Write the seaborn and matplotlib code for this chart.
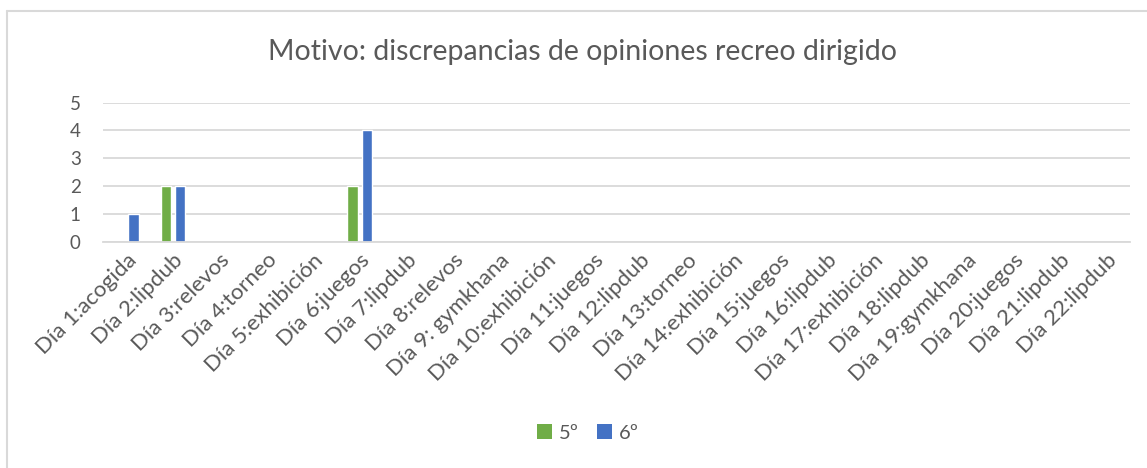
import matplotlib
matplotlib.use("Agg")
import matplotlib.pyplot as plt
import seaborn as sns
import pandas as pd
from matplotlib.lines import Line2D
from matplotlib.patches import Patch

categories = ["Día 1:acogida", "Día 2:lipdub", "Día 3:relevos", "Día 4:torneo",
              "Día 5:exhibición", "Día 6:juegos", "Día 7:lipdub", "Día 8:relevos",
              "Día 9: gymkhana", "Día 10:exhibición", "Día 11:juegos", "Día 12:lipdub",
              "Día 13:torneo", "Día 14:exhibición", "Día 15:juegos", "Día 16:lipdub",
              "Día 17:exhibición", "Día 18:lipdub", "Día 19:gymkhana", "Día 20:juegos",
              "Día 21:lipdub", "Día 22:lipdub"]
series_names = ["5º", "6º"]
values_5 = [0, 2, 0, 0, 0, 2, 0, 0, 0, 0, 0, 0, 0, 0, 0, 0, 0, 0, 0, 0, 0, 0]
values_6 = [1, 2, 0, 0, 0, 4, 0, 0, 0, 0, 0, 0, 0, 0, 0, 0, 0, 0, 0, 0, 0, 0]
yticks = [0, 1, 2, 3, 4, 5]
title = "Motivo: discrepancias de opiniones recreo dirigido"

colors = {"5º": "#70AD47", "6º": "#4472C4"}
text_color = "#595959"
grid_color = "#D9D9D9"

df = pd.DataFrame({
    "cat": categories * 2,
    "serie": [series_names[0]] * len(categories) + [series_names[1]] * len(categories),
    "val": values_5 + values_6,
})

sns.set_theme(style="white")
plt.rcParams["font.family"] = ["Lato", "DejaVu Sans"]

W, H = 1147, 468
fig = plt.figure(figsize=(W / 100, H / 100), dpi=100)
ax = fig.add_axes([103 / W, 1 - 241.7 / H, (1130 - 103) / W, (241.7 - 102.7) / H])

sns.barplot(data=df, x="cat", y="val", hue="serie", palette=colors, ax=ax,
            width=0.6, gap=0.25, legend=False, saturation=1)

ax.set_ylim(0, 5)
ax.set_xlim(-0.5, len(categories) - 0.5)
ax.set_yticks(yticks)
ax.set_yticklabels([str(v) for v in yticks], fontsize=13.5, color=text_color)
ax.yaxis.grid(True, color=grid_color, linewidth=1.3)
ax.set_axisbelow(True)
for s in ["top", "right", "left"]:
    ax.spines[s].set_visible(False)
ax.spines["bottom"].set_color(grid_color)
ax.spines["bottom"].set_linewidth(1.3)
ax.tick_params(axis="y", length=0, pad=16)
ax.tick_params(axis="x", length=0, pad=6)
ax.set_xlabel("")
ax.set_ylabel("")
ax.set_xticks(range(len(categories)))
ax.set_xticklabels(categories, rotation=45, ha="right", rotation_mode="anchor",
                   fontsize=16, color=text_color)

fig.text(582 / W, 1 - 52 / H, title, ha="center", va="center",
         fontsize=20.5, color=text_color)

handles = [Patch(facecolor=colors[n], edgecolor="none", label=n) for n in series_names]
fig.legend(handles=handles, loc="center", bbox_to_anchor=(588 / W, 1 - 433 / H),
           ncol=2, frameon=False, fontsize=14.5, labelcolor=text_color,
           handlelength=0.75, handleheight=0.75, handletextpad=0.35, columnspacing=0.9)

# chart frame (top and left visible)
fig.add_artist(Line2D([7 / W, 7 / W], [0, 1 - 11 / H], transform=fig.transFigure,
                      color="#D9D9D9", linewidth=1.5))
fig.add_artist(Line2D([7 / W, 1], [1 - 11 / H, 1 - 11 / H], transform=fig.transFigure,
                      color="#D9D9D9", linewidth=1.5))

fig.savefig("out.png", dpi=100, facecolor="white")
